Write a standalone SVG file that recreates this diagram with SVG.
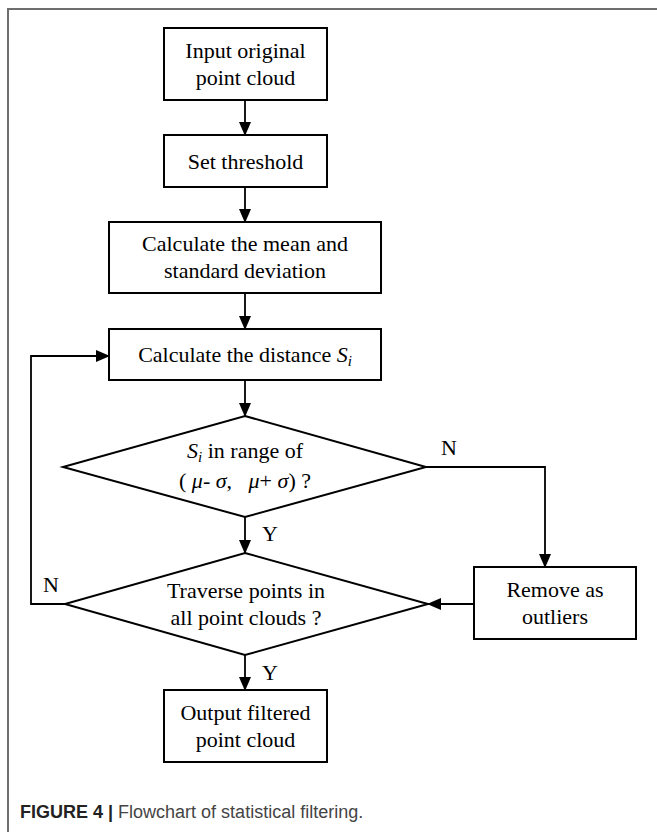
<svg xmlns="http://www.w3.org/2000/svg" width="657" height="832" viewBox="0 0 657 832">
<style>
.box{fill:#fff;stroke:#000;stroke-width:2}
.t{font-family:"Liberation Serif","Times New Roman",serif;font-size:22px;fill:#000;text-anchor:middle}
.l{font-family:"Liberation Serif","Times New Roman",serif;font-size:22px;fill:#000}
.c{fill:none;stroke:#000;stroke-width:1.8}
.i{font-style:italic}
</style>
<defs>
<marker id="ah" markerWidth="14" markerHeight="12" refX="13" refY="6" orient="auto" markerUnits="userSpaceOnUse">
<path d="M0,0 L14,6 L0,12 Z" fill="#000"/>
</marker>
</defs>
<rect width="657" height="832" fill="#fff"/>
<path d="M8,832 V9 H657" fill="none" stroke="#6e6e6e" stroke-width="2"/>
<g id="connectors">
<path class="c" d="M245,100 V135" marker-end="url(#ah)"/>
<path class="c" d="M245,187 V222" marker-end="url(#ah)"/>
<path class="c" d="M245,293 V329" marker-end="url(#ah)"/>
<path class="c" d="M245,380 V416" marker-end="url(#ah)"/>
<path class="c" d="M245,517 V553" marker-end="url(#ah)"/>
<path class="c" d="M245,655 V690" marker-end="url(#ah)"/>
<path class="c" d="M65,604 H31 V356 H109" marker-end="url(#ah)"/>
<path class="c" d="M425,467 H545 V567" marker-end="url(#ah)"/>
<path class="c" d="M474,604 H428" marker-end="url(#ah)"/>
<text class="l" x="262" y="541">Y</text>
<text class="l" x="262" y="680">Y</text>
<text class="l" x="441" y="455">N</text>
<text class="l" x="43" y="592">N</text>
</g>
<g id="n1">
<rect class="box" x="164" y="28" width="163" height="72"/>
<text class="t" x="245.5" y="58">Input original</text>
<text class="t" x="245.5" y="85">point cloud</text>
</g>
<g id="n2">
<rect class="box" x="164" y="135" width="163" height="52"/>
<text class="t" x="245.5" y="168.5">Set threshold</text>
</g>
<g id="n3">
<rect class="box" x="109" y="222" width="272" height="71"/>
<text class="t" x="245" y="251">Calculate the mean and</text>
<text class="t" x="245" y="278">standard deviation</text>
</g>
<g id="n4">
<rect class="box" x="109" y="329" width="272" height="51"/>
<text class="t" x="245" y="362">Calculate the distance <tspan class="i">S</tspan><tspan class="i" font-size="15" dy="4">i</tspan></text>
</g>
<g id="d1">
<polygon class="box" points="245,416 426,467 245,517 63,467"/>
<text class="t" x="245" y="458"><tspan class="i">S</tspan><tspan class="i" font-size="15" dy="4">i</tspan><tspan dy="-4"> in range of</tspan></text>
<text class="t" x="245" y="488">(&#160;<tspan class="i">μ</tspan>-&#160;<tspan class="i">σ</tspan>,&#160;&#160;&#160;<tspan class="i">μ</tspan>+&#160;<tspan class="i">σ</tspan>)&#160;?</text>
</g>
<g id="d2">
<polygon class="box" points="245,553 428,604 245,655 65,604"/>
<text class="t" x="246" y="598">Traverse points in</text>
<text class="t" x="246" y="625">all point clouds ?</text>
</g>
<g id="n5">
<rect class="box" x="474" y="567" width="162" height="72"/>
<text class="t" x="555" y="597">Remove as</text>
<text class="t" x="555" y="624">outliers</text>
</g>
<g id="n6">
<rect class="box" x="164" y="690" width="163" height="72"/>
<text class="t" x="245.5" y="720">Output filtered</text>
<text class="t" x="245.5" y="747">point cloud</text>
</g>
<text x="20" y="818" font-family="Liberation Sans,Arial,sans-serif" font-size="18" fill="#444"><tspan font-weight="bold" fill="#222">FIGURE 4</tspan> <tspan fill="#222" font-weight="bold">|</tspan> Flowchart of statistical filtering.</text>
</svg>
